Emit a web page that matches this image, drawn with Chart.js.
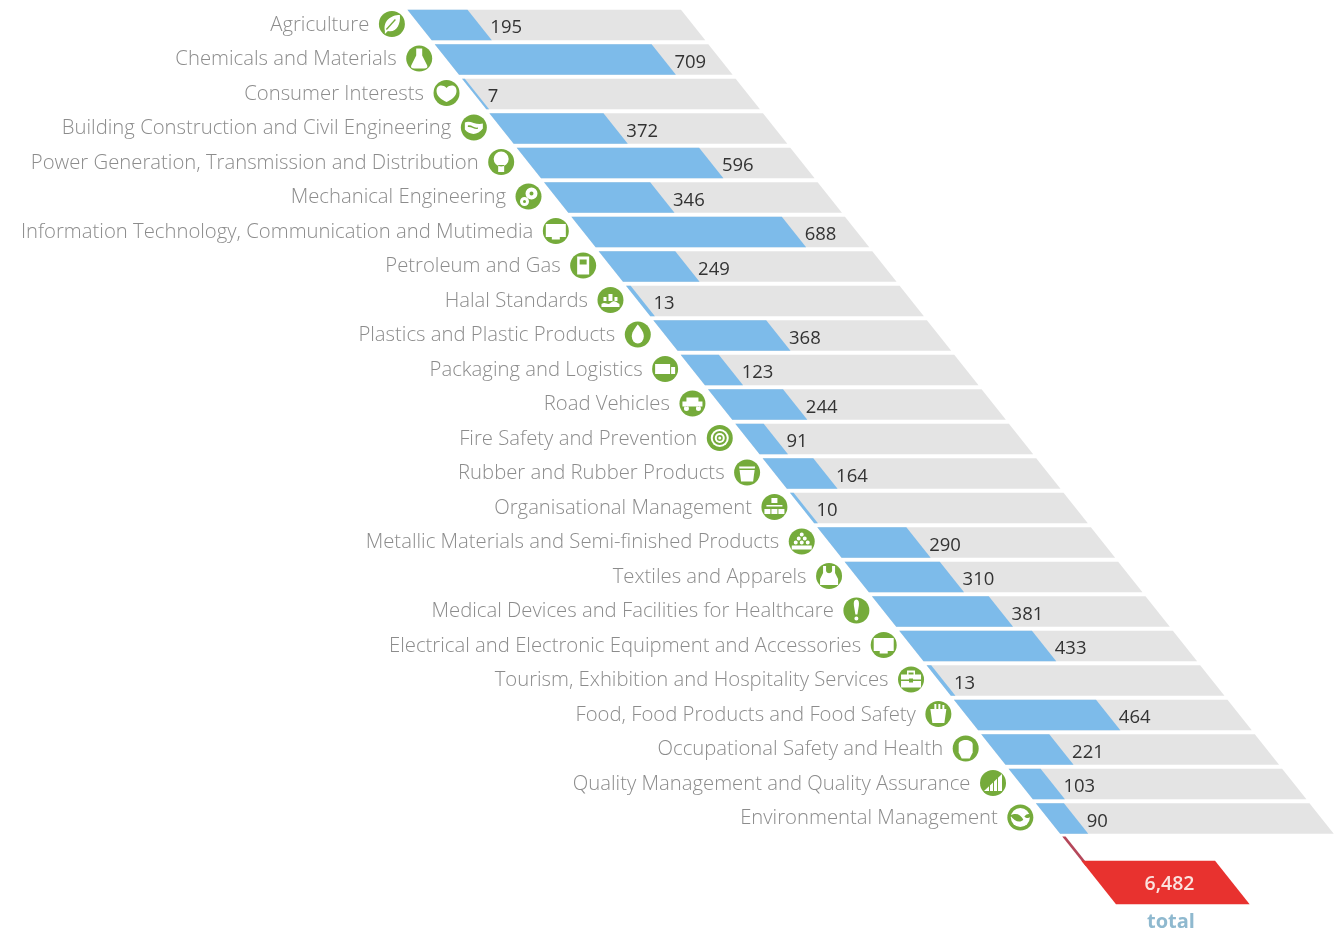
<!DOCTYPE html>
<html><head><meta charset="utf-8"><style>html,body{margin:0;background:#fff;overflow:hidden}canvas{display:block}</style>
<script src="https://cdn.jsdelivr.net/npm/chart.js@4"></script></head><body>
<canvas id="c" width="1337" height="931"></canvas>
<script>
const categories=["Agriculture","Chemicals and Materials","Consumer Interests","Building Construction and Civil Engineering","Power Generation, Transmission and Distribution","Mechanical Engineering","Information Technology, Communication and Mutimedia","Petroleum and Gas","Halal Standards","Plastics and Plastic Products","Packaging and Logistics","Road Vehicles","Fire Safety and Prevention","Rubber and Rubber Products","Organisational Management","Metallic Materials and Semi-finished Products","Textiles and Apparels","Medical Devices and Facilities for Healthcare","Electrical and Electronic Equipment and Accessories","Tourism, Exhibition and Hospitality Services","Food, Food Products and Food Safety","Occupational Safety and Health","Quality Management and Quality Assurance","Environmental Management"];
const values=[195,709,7,372,596,346,688,249,13,368,123,244,91,164,10,290,310,381,433,13,464,221,103,90];
const axisMax=905;
const trackValue=895;
const totalValue=6482;
const totalLabel="total";
const totalRow=24.855;
const connectorRow=23.95;
const connectorValue=9;
const icons=["leaf","flask","heart","wave","bulb","gears","monitor","fuel","halal","drop","truck","car","rings","bucket","org","stack","shirt","alert","monitor","case","cup","glove","bars","globe"];

const SKEW=0.792,Y0=10;
const G=p=>new Path2D(p);
const circ=(x,y,r)=>`M${x-r} ${y}a${r} ${r} 0 1 0 ${2*r} 0a${r} ${r} 0 1 0 ${-2*r} 0Z`;
const rect=(x,y,w,h)=>`M${x} ${y}h${w}v${h}h${-w}Z`;
const glyphs={
 leaf:[["M-7 7C-9-3-1-9 8-9 9 1 4 9-4 7L-7 10Z"],["g","M-5 6L4-4L3-5L-6 5Z"]],
 flask:[["M-3-10H3V-3L8 7Q9 10 5 10H-5Q-9 10-8 7L-3-3Z"]],
 heart:[["M0-5C4-9 10-8 10-2 10 4 4 7 0 9-4 7-10 4-10-2-10-8-4-9 0-5Z"]],
 wave:[["M-9-5C-4-8 2-2 9-4L9 1C4 8-4 8-9 2Z"],["g","M-6-2C-2-3 0 1 4 0V1.500C0 2-2-1-6-.5Z"]],
 bulb:[[circ(0,-3,7.5)+rect(-3,3,6,7)]],
 gears:[[circ(3,-3,6)+circ(-4,5,4.5)],["g",circ(3,-3,2)+circ(-4,5,1.5)]],
 monitor:[[rect(-10,-7,20,13)+rect(-4,6,8,2.5)]],
 fuel:[[rect(-6,-9,12,18)],["g",rect(-3.5,-6,7,5)]],
 halal:[["M-9 4C-5 1-3 6 0 3S5 1 9 4V7H-9Z"+rect(-2,-6,4,7)+rect(-7,-3,3,4)+rect(4,-3,3,4)]],
 drop:[["M0-10C4-5 6-2 6 2A6 7 0 0 1-6 2C-6-2-4-5 0-10Z"]],
 truck:[[rect(-10,-5,15,10)+rect(6,-2,4,7)]],
 car:[[rect(-10,-2,20,5)+rect(-6,-6,12,4)+circ(-6,5,2.5)+circ(6,5,2.5)]],
 rings:[[circ(0,0,9)],["g",circ(0,0,7)],["w",circ(0,0,5)],["g",circ(0,0,3)],["w",circ(0,0,1.5)]],
 bucket:[["M-8-6H8L6 9H-6Z"],["g",rect(-8,-4,16,1.5)]],
 org:[[rect(-3,-9,6,5)+rect(-10,2,6,5)+rect(-3,2,6,5)+rect(4,2,6,5)+rect(-8,-2,16,1.5)]],
 stack:[[circ(0,-7,2)+circ(-3,-3,2)+circ(3,-3,2)+circ(-6,1,2)+circ(0,1,2)+circ(6,1,2)+rect(-10,4,20,4)]],
 shirt:[["M-6-10H-3V-5C-2-2 2-2 3-5V-10H6V-3L9 3V9H-9V3L-6-3Z"]],
 alert:[["M0-11C2-11 3-9 2.500-5L1 4H-1L-2.500-5C-3-9-2-11 0-11Z"+circ(0,8,2)]],
 case:[[rect(-10,-5,20,13)+rect(-4,-9,8,2)+rect(-4,-9,1.5,4)+rect(2.5,-9,1.5,4)],["g",rect(-10,0,20,1.5)+rect(-2,-1,4,4)]],
 cup:[["M-8-5H8L6 9H-6Z"+rect(-4,-10,2,5)+rect(0,-10,2,5)+rect(4,-9,2,4)]],
 glove:[["M-7-4C-7-10 7-10 7-4V4L4 10H-4L-7 4Z"]],
 bars:[["M-9 8L9-9V8Z"],["g",rect(-4,0,1,8)+rect(0,-4,1,12)+rect(4,-8,1,16)]],
 globe:[[circ(0,0,9.5)],["g","M-10-2C-4-5 0-3 3 2 0 6-6 4-10-2ZM4-1C6-4 9-4 11-3 11 0 7 2 4-1Z"]]
};
const GREEN="#75ab3b",TEXT="#8c8c8c";

const skewPlugin={id:"skew",
 beforeDatasetsDraw(c){c.ctx.save();c.ctx.transform(1,0,SKEW,1,-SKEW*Y0,0);},
 afterDatasetsDraw(c){
  c.ctx.restore();
  const ctx=c.ctx,xs=c.scales.x,x2=c.scales.x2,ys=c.scales.y;
  const sx=(px,py)=>px+SKEW*(py-Y0);
  ctx.save();ctx.textBaseline="middle";
  categories.forEach((name,i)=>{
    const y=ys.getPixelForValue(i),left=sx(xs.getPixelForValue(0),y),cx=left-28,cy=y-1;
    ctx.fillStyle=GREEN;ctx.beginPath();ctx.arc(cx,cy,13,0,Math.PI*2);ctx.fill();
    ctx.save();ctx.translate(cx,cy);
    glyphs[icons[i]].forEach(g=>{
      const col=g.length>1?(g[0]==="g"?GREEN:"#fff"):"#fff";
      ctx.fillStyle=col;ctx.fill(G(g[g.length-1]),"nonzero");
    });
    ctx.restore();
    ctx.fillStyle=TEXT;ctx.textAlign="right";ctx.font='300 20.3px "Open Sans"';
    ctx.fillText(name,cx-22.5,y);
    ctx.fillStyle="#333";ctx.textAlign="left";ctx.font='400 18.5px "Open Sans"';
    ctx.fillText(String(values[i]),sx(xs.getPixelForValue(values[i]),y)+11,y+3);
  });
  const ty=ys.getPixelForValue(totalRow);
  ctx.textAlign="center";
  ctx.fillStyle="#fbe3df";ctx.font='600 19.5px "Open Sans"';
  ctx.fillText(totalValue.toLocaleString("en-US"),sx(x2.getPixelForValue(totalValue/2),ty)+4,ty+2);
  ctx.fillStyle="#8fb9cf";ctx.font='700 20px "Open Sans"';
  ctx.fillText(totalLabel,1171,ty+40);
  ctx.restore();
 }};

const rows=categories.map((_,i)=>i);
new Chart(document.getElementById("c"),{
 type:"bar",
 data:{datasets:[
  {label:"Value",data:rows.map(i=>({x:values[i],y:i})),backgroundColor:"#7dbbea",barThickness:30,grouped:false,clip:false,order:1},
  {label:"Track",data:rows.map(i=>({x:trackValue,y:i})),backgroundColor:"#e4e4e4",barThickness:30,grouped:false,clip:false,order:2},
  {label:"Total",data:[{x:totalValue,y:totalRow}],xAxisID:"x2",backgroundColor:"#e8322f",barThickness:43,grouped:false,clip:false,order:3},
  {label:"Connector",data:[{x:connectorValue,y:connectorRow}],backgroundColor:"#b5475a",barThickness:29,grouped:false,clip:false,order:4}
 ]},
 options:{indexAxis:"y",responsive:false,animation:false,
  layout:{padding:{left:408,right:653,top:7.75,bottom:26.25}},
  plugins:{legend:{display:false},tooltip:{enabled:false}},
  scales:{
   x:{type:"linear",display:false,min:0,max:axisMax},
   x2:{type:"linear",display:false,min:0,max:totalValue*276/133},
   y:{type:"linear",display:false,offset:false,reverse:true,min:-0.5,max:25.5}
  }},
 plugins:[skewPlugin]
});
</script></body></html>
